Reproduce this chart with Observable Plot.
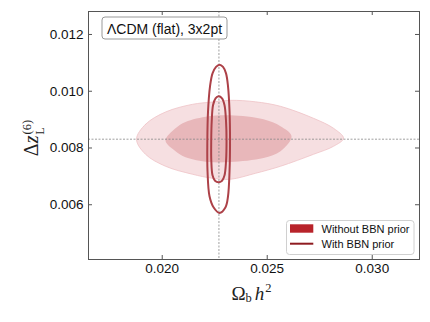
<!DOCTYPE html>
<html>
<head>
<meta charset="utf-8">
<script src="https://cdn.jsdelivr.net/npm/d3@7"></script>
<script src="https://cdn.jsdelivr.net/npm/@observablehq/plot@0.6"></script>
<style>
  html, body { margin: 0; padding: 0; background: #fff; }
</style>
</head>
<body>
<div id="chart"></div>
<script>
// Axis ticks and domains
const xTicks = [0.020, 0.025, 0.030];
const yTicks = [0.006, 0.008, 0.010, 0.012];
const xDomain = [0.01649, 0.03225];
const yDomain = [0.00407, 0.01281];

// Fiducial values (crosshair)
const fiducialX = [0.02270];
const fiducialY = [0.00831];

// Without BBN prior: 95% contour (filled, light)
const noBBN95 = [
  [0.018776, 0.008306], [0.019205, 0.008834], [0.020157, 0.009268], [0.021443, 0.009539],
  [0.022395, 0.009620], [0.023252, 0.009680], [0.024443, 0.009627], [0.025633, 0.009468],
  [0.027205, 0.009046], [0.028157, 0.008694], [0.028633, 0.008342], [0.028157, 0.008060],
  [0.027205, 0.007778], [0.025633, 0.007356], [0.024443, 0.007109], [0.023252, 0.006898],
  [0.022395, 0.006933], [0.021443, 0.007074], [0.020157, 0.007356], [0.019205, 0.007778]
];

// Without BBN prior: 68% contour (filled, darker)
const noBBN68 = [
  [0.020157, 0.008261], [0.020633, 0.008694], [0.021110, 0.008915], [0.022205, 0.009116],
  [0.023252, 0.009151], [0.024824, 0.009011], [0.025633, 0.008764], [0.026157, 0.008412],
  [0.025633, 0.007884], [0.024824, 0.007648], [0.023252, 0.007507], [0.022205, 0.007507],
  [0.021110, 0.007673], [0.020633, 0.007884]
];

// With BBN prior: 95% contour (line)
const bbn95 = [
  [0.022729, 0.010937], [0.022895, 0.010859], [0.023038, 0.010630], [0.023133, 0.010173],
  [0.023205, 0.009292], [0.023229, 0.008236], [0.023205, 0.007180], [0.023133, 0.006299],
  [0.023014, 0.005912], [0.022729, 0.005711], [0.022443, 0.005912], [0.022252, 0.006299],
  [0.022157, 0.007180], [0.022148, 0.008236], [0.022181, 0.009292], [0.022276, 0.010173],
  [0.022395, 0.010630], [0.022562, 0.010859]
];

// With BBN prior: 68% contour (line)
const bbn68 = [
  [0.022681, 0.009820], [0.022848, 0.009750], [0.022967, 0.009504], [0.023038, 0.008940],
  [0.023062, 0.008236], [0.023038, 0.007532], [0.022967, 0.007039], [0.022848, 0.006845],
  [0.022681, 0.006792], [0.022514, 0.006845], [0.022395, 0.007039], [0.022338, 0.007532],
  [0.022333, 0.008236], [0.022357, 0.008940], [0.022419, 0.009504], [0.022538, 0.009750]
];

const legendLabels = ["Without BBN prior", "With BBN prior"];
const titleText = "ΛCDM (flat), 3x2pt";

const W = 430, H = 322;
const mL = 88, mR = 11, mT = 11, mB = 63;
const innerW = W - mL - mR, innerH = H - mT - mB;
const tick = 4;

const pos = {x: d => d[0], y: d => d[1], curve: "catmull-rom-closed"};

const svg = Plot.plot({
  width: W, height: H,
  marginLeft: mL, marginRight: mR, marginTop: mT, marginBottom: mB,
  style: {fontFamily: "'Liberation Sans', Arial, sans-serif", background: "#fff"},
  x: {domain: xDomain},
  y: {domain: yDomain},
  marks: [
    Plot.line(noBBN95, {...pos, fill: "#f6dfe1", stroke: "#efc3c6", strokeWidth: 0.8}),
    Plot.line(noBBN68, {...pos, fill: "#e8b7ba", stroke: "none"}),
    Plot.ruleX(fiducialX, {x: d => d, stroke: "#888", strokeWidth: 0.8, strokeDasharray: "2,1.5"}),
    Plot.ruleY(fiducialY, {y: d => d, stroke: "#888", strokeWidth: 0.8, strokeDasharray: "2,1.5"}),
    Plot.line(bbn95, {...pos, stroke: "#ad4148", strokeWidth: 2}),
    Plot.line(bbn68, {...pos, stroke: "#ad4148", strokeWidth: 2}),
    // inward ticks on all four sides
    Plot.ruleX(xTicks, {x: d => d, insetTop: innerH - tick, stroke: "#555"}),
    Plot.ruleX(xTicks, {x: d => d, insetBottom: innerH - tick, stroke: "#555"}),
    Plot.ruleY(yTicks, {y: d => d, insetRight: innerW - tick, stroke: "#555"}),
    Plot.ruleY(yTicks, {y: d => d, insetLeft: innerW - tick, stroke: "#555"}),
    Plot.axisX(xTicks, {tickSize: 0, tickPadding: 4, tickFormat: d => d.toFixed(3), fontSize: 13.5, label: null, fill: "#111"}),
    Plot.axisY(yTicks, {tickSize: 0, tickPadding: 5, tickFormat: d => d.toFixed(3), fontSize: 13.5, label: null, fill: "#111"}),
    Plot.frame({stroke: "#555", strokeWidth: 1})
  ]
});

const s = d3.select(svg);

// Title box
const tb = s.append("g");
tb.append("rect").attr("x", 102).attr("y", 17).attr("width", 125).attr("height", 22)
  .attr("rx", 3).attr("fill", "#fff").attr("fill-opacity", 0.9).attr("stroke", "#999").attr("stroke-width", 1);
tb.append("text").attr("x", 164.5).attr("y", 28.5).attr("text-anchor", "middle")
  .attr("dominant-baseline", "central").attr("font-size", 14).attr("fill", "#111").text(titleText);

// Legend
const lg = s.append("g");
lg.append("rect").attr("x", 286.5).attr("y", 220.5).attr("width", 127.5).attr("height", 34)
  .attr("rx", 3).attr("fill", "#fff").attr("fill-opacity", 0.85).attr("stroke", "#d0d0d0");
lg.append("rect").attr("x", 290).attr("y", 224.3).attr("width", 23.3).attr("height", 8.4).attr("fill", "#b8232a");
lg.append("line").attr("x1", 290).attr("x2", 313.3).attr("y1", 243.7).attr("y2", 243.7)
  .attr("stroke", "#8e1b20").attr("stroke-width", 2);
lg.append("text").attr("x", 321.5).attr("y", 228.7).attr("text-anchor", "start").attr("dominant-baseline", "central")
  .attr("font-size", 11).attr("fill", "#111").text(legendLabels[0]);
lg.append("text").attr("x", 321.5).attr("y", 243.5).attr("text-anchor", "start").attr("dominant-baseline", "central")
  .attr("font-size", 11).attr("fill", "#111").text(legendLabels[1]);

// X label: Ω_b h^2
const xl = s.append("text").attr("x", 251.5).attr("y", 300).attr("text-anchor", "middle")
  .attr("font-family", "'Liberation Serif', 'DejaVu Serif', serif").attr("font-size", 19).attr("fill", "#222");
xl.append("tspan").text("Ω");
xl.append("tspan").attr("font-size", 12.5).attr("dy", 2).text("b");
xl.append("tspan").attr("font-style", "italic").attr("dx", 3).attr("dy", -2).text("h");
xl.append("tspan").attr("font-size", 12.5).attr("dx", 1).attr("dy", -8).text("2");

// Y label: Δz_L^(6)
const yl = s.append("text").attr("transform", "translate(38,138) rotate(-90)").attr("text-anchor", "middle")
  .attr("font-family", "'Liberation Serif', 'DejaVu Serif', serif").attr("font-size", 20).attr("fill", "#222");
yl.append("tspan").text("Δ");
yl.append("tspan").attr("font-style", "italic").text("z");
yl.append("tspan").attr("font-size", 11.5).attr("dx", 1).attr("dy", 6).text("L");
yl.append("tspan").attr("font-size", 12.5).attr("dx", -7).attr("dy", -13).text("(6)");

document.getElementById("chart").appendChild(svg);
</script>
</body>
</html>
